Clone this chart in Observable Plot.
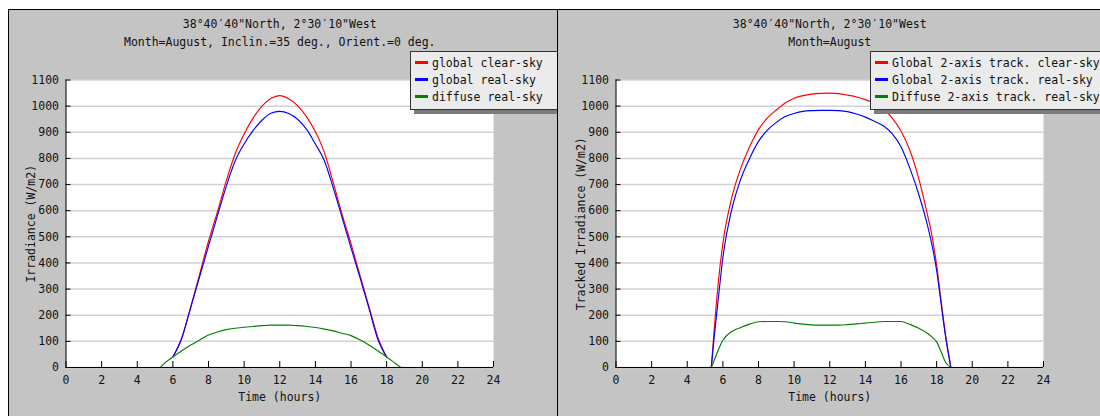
<!DOCTYPE html>
<html><head><meta charset="utf-8">
<script src="https://cdn.jsdelivr.net/npm/d3@7"></script>
<script src="https://cdn.jsdelivr.net/npm/@observablehq/plot@0.6"></script>
<style>
body{margin:0;background:#fff;width:1100px;height:416px;overflow:hidden;position:relative;font-family:"DejaVu Sans Mono",monospace;}
.panel{position:absolute;top:9px;background:#c4c4c4;border-top:1px solid #000;border-left:1px solid #000;height:407px;overflow:hidden;}
#p1{left:8px;width:548px;}
#p2{left:557px;width:542px;}
.panel svg{position:absolute;left:0;top:0;}
.legend{position:absolute;top:41px;background:#ebebeb;border:1px solid #333;box-shadow:4px 4px 0 #7c7c7c;font-size:11.5px;color:#111;padding:3px 0 3px 4px;line-height:17px;white-space:nowrap;}
.legend .sw{display:inline-block;width:13px;height:3px;margin-right:4px;vertical-align:middle;position:relative;top:-1px;}
</style></head>
<body>
<div class="panel" id="p1"></div>
<div class="panel" id="p2"></div>
<script>
// ---- labels ----
const titlesA = ["38°40′40\"North, 2°30′10\"West", "Month=August, Inclin.=35 deg., Orient.=0 deg."];
const titlesB = ["38°40′40\"North, 2°30′10\"West", "Month=August"];
const seriesNamesA = ["global clear-sky", "global real-sky", "diffuse real-sky"];
const seriesNamesB = ["Global 2-axis track. clear-sky", "Global 2-axis track. real-sky", "Diffuse 2-axis track. real-sky"];
const seriesColors = ["#ff0000", "#0000ff", "#008000"];
const xTicks = [0,2,4,6,8,10,12,14,16,18,20,22,24];
const yTicks = [0,100,200,300,400,500,600,700,800,900,1000,1100];

// ---- data: left panel (fixed plane, incl. 35 deg) ----
const hoursA = [6,6.5,7,7.5,8,8.5,9,9.5,10,10.5,11,11.5,12,12.5,13,13.5,14,14.5,15,15.5,16,16.5,17,17.5,18];
const clearA = [40,112,231,356,483,595,715,818,893,954,1000,1029,1040,1028,1002,960,902,824,708,586,474,354,235,117,40];
const realA  = [40,113,229,347,465,580,694,791,855,906,946,973,980,972,950,912,855,792,688,574,458,345,229,109,40];
const hoursDiffA = [5.3,5.5,6,6.5,7,7.5,8,8.5,9,9.5,10,10.5,11,11.5,12,12.5,13,13.5,14,14.5,15,15.5,16,16.5,17,17.5,18,18.5,18.8];
const diffA = [0,15,40,64,86,105,124,136,145,150,154,157,160,162,162,162,160,157,153,147,140,131,122,106,86,64,40,15,0];

// ---- data: right panel (2-axis tracking) ----
const hoursB = [5.35,5.5,5.75,6,6.5,7,7.5,8,8.5,9,9.5,10,10.5,11,11.5,12,12.5,13,13.5,14,14.5,15,15.5,16,16.5,17,17.5,17.75,18,18.25,18.5,18.8];
const clearB = [0,135,330,475,650,762,845,910,955,985,1012,1030,1040,1046,1049,1050,1048,1042,1035,1025,1010,990,955,905,830,722,580,500,392,255,125,0];
const realB  = [0,108,268,420,605,720,800,865,908,938,960,972,980,983,984,984,983,979,970,958,942,925,895,845,762,662,540,465,372,245,120,0];
const diffB  = [0,25,68,104,138,153,166,175,176,176,175,170,166,163,162,162,162,164,167,170,173,176,176,176,165,150,130,116,98,60,20,0];

const rows = (hs, vs) => hs.map((h, i) => ({h, v: vs[i]}));

function chart({width, ml, mr, yLabel, titles, series}) {
  const height = 406, mt = 69.5, mb = 49;
  const plotW = width - ml - mr, plotH = height - mt - mb;
  return Plot.plot({
    width, height, marginLeft: ml, marginRight: mr, marginTop: mt, marginBottom: mb,
    style: {background: "transparent", fontFamily: "DejaVu Sans Mono, monospace", fontSize: "11.5px", color: "#111", overflow: "visible"},
    x: {domain: [0, 24]},
    y: {domain: [0, 1100]},
    marks: [
      Plot.frame({fill: "white", stroke: "none"}),
      Plot.gridY(yTicks, {stroke: "#d2d2d2", strokeOpacity: 1, strokeWidth: 1.5}),
      ...series.map(([hs, vs, c]) => Plot.line(rows(hs, vs), {x: "h", y: "v", stroke: c, strokeWidth: 1.15, curve: "monotone-x"})),
      Plot.ruleX([0], {stroke: "#000"}),
      Plot.ruleY([0], {stroke: "#000"}),
      Plot.tickY(yTicks, {y: d => d, insetRight: plotW - 5, stroke: "#000"}),
      Plot.tickX(xTicks, {x: d => d, insetTop: plotH - 6, stroke: "#000"}),
      Plot.axisY(yTicks, {tickSize: 0, tickPadding: 7, label: null, tickFormat: d => String(d)}),
      Plot.axisX(xTicks, {tickSize: 0, tickPadding: 8, label: null, tickFormat: d => String(d)}),
      Plot.text([yLabel], {text: d => d, frameAnchor: "left", dx: -35, rotate: -90, textAnchor: "middle", lineAnchor: "middle"}),
      Plot.text(["Time (hours)"], {text: d => d, frameAnchor: "bottom", dy: 30, textAnchor: "middle", lineAnchor: "middle"}),
      Plot.text([titles[0]], {text: d => d, frameAnchor: "top", dy: -55.5, textAnchor: "middle", lineAnchor: "middle"}),
      Plot.text([titles[1]], {text: d => d, frameAnchor: "top", dy: -37.5, textAnchor: "middle", lineAnchor: "middle"})
    ]
  });
}

function legend(names, left) {
  const div = document.createElement("div");
  div.className = "legend";
  div.style.left = left + "px";
  div.style.paddingRight = "30px";
  names.forEach((n, i) => {
    const r = document.createElement("div");
    const s = document.createElement("span");
    s.className = "sw"; s.style.background = seriesColors[i];
    r.appendChild(s);
    r.appendChild(document.createTextNode(n));
    div.appendChild(r);
  });
  return div;
}

const p1 = document.getElementById("p1");
p1.appendChild(chart({width: 548, ml: 56.5, mr: 64, yLabel: "Irradiance (W/m2)", titles: titlesA,
  series: [[hoursA, clearA, seriesColors[0]], [hoursA, realA, seriesColors[1]], [hoursDiffA, diffA, seriesColors[2]]]}));
p1.appendChild(legend(seriesNamesA, 401));

const p2 = document.getElementById("p2");
p2.appendChild(chart({width: 542, ml: 57.5, mr: 57, yLabel: "Tracked Irradiance (W/m2)", titles: titlesB,
  series: [[hoursB, clearB, seriesColors[0]], [hoursB, realB, seriesColors[1]], [hoursB, diffB, seriesColors[2]]]}));
p2.appendChild(legend(seriesNamesB, 312));
</script>
</body></html>
